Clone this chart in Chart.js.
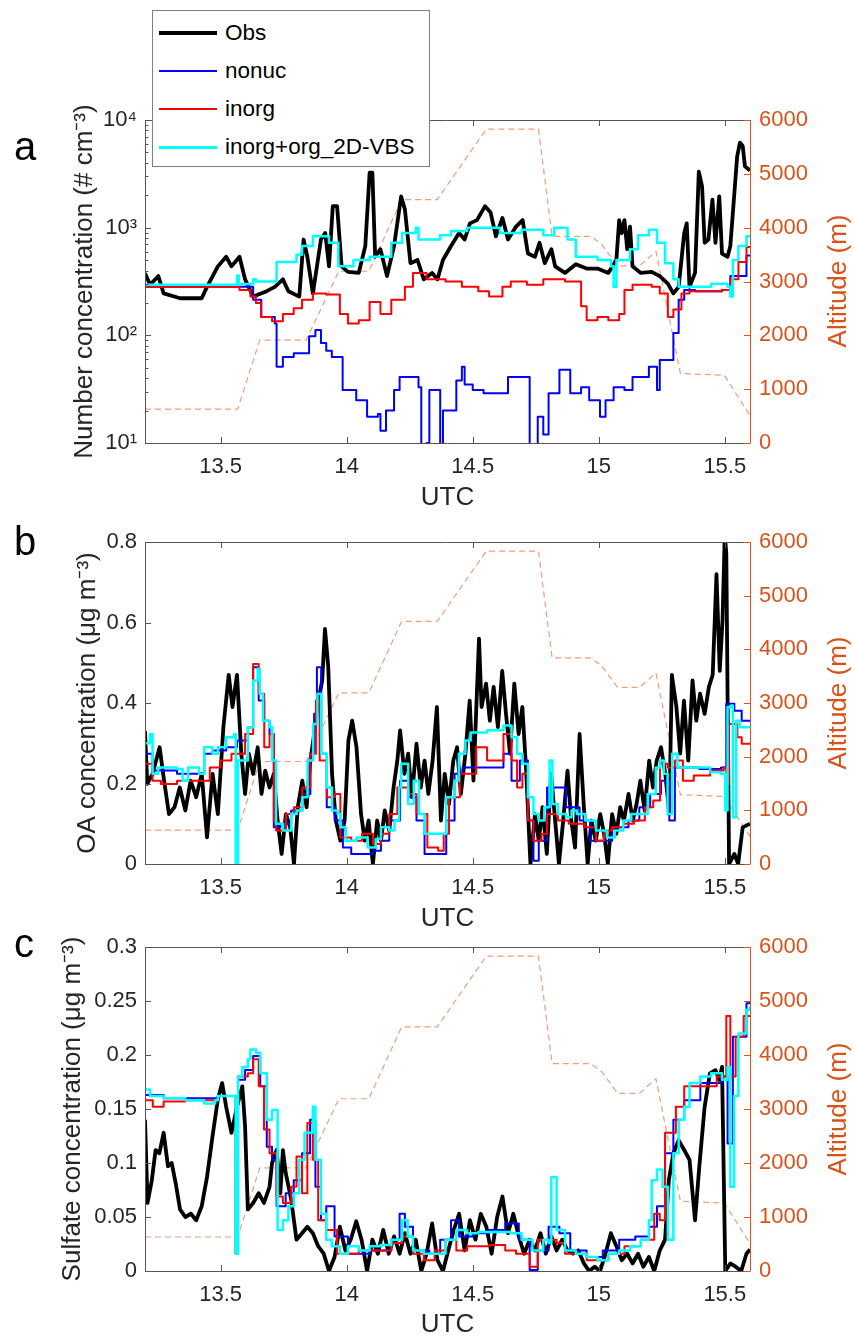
<!DOCTYPE html>
<html lang="en">
<head>
  <meta charset="UTF-8" />
  <title>Number, OA and sulfate concentration vs UTC</title>
  <script src="https://cdn.jsdelivr.net/npm/chart.js@4.4.0"></script>
  <style>
    * { box-sizing: border-box; margin: 0; padding: 0; }
    body {
      width: 854px;
      height: 1340px;
      position: relative;
      overflow: hidden;
      background: #fff;
      font-family: 'Liberation Sans', Arial, Helvetica, sans-serif;
      color: #000;
    }
    canvas { position: absolute; left: 0; }
    .letter {
      position: absolute;
      font-size: 40px;
      line-height: 1;
    }
    .alt-title {
      position: absolute;
      font-size: 26px;
      line-height: 1;
      color: #D95319;
      white-space: nowrap;
      transform: translate(-50%, -50%) rotate(-90deg);
    }
    #legend {
      position: absolute;
      left: 152px;
      top: 10px;
      width: 278px;
      height: 157px;
      border: 1px solid #7f7f7f;
      background: #fff;
      font-size: 22.5px;
      z-index: 5;
    }
    #legend .row { position: absolute; left: 0; width: 100%; height: 38px; }
    #legend .swatch { position: absolute; left: 6px; width: 58px; }
    #legend .label { position: absolute; left: 72px; top: 0; line-height: 38px; }
  </style>
</head>
<body>

  <canvas id="chartA" width="854" height="520" style="top:0px"></canvas>
  <canvas id="chartB" width="854" height="470" style="top:470px"></canvas>
  <canvas id="chartC" width="854" height="460" style="top:880px"></canvas>

  <div class="letter" style="left:14px; top:126px">a</div>
  <div class="letter" style="left:14px; top:521px">b</div>
  <div class="letter" style="left:14px; top:923px">c</div>

  <div class="alt-title" style="left:837px; top:281px">Altitude (m)</div>
  <div class="alt-title" style="left:837px; top:703px">Altitude (m)</div>
  <div class="alt-title" style="left:837px; top:1109px">Altitude (m)</div>

  <div id="legend">
    <div class="row" style="top:3px"><span class="swatch" style="top:17px; border-top:4px solid #000"></span><span class="label">Obs</span></div>
    <div class="row" style="top:41px"><span class="swatch" style="top:18px; border-top:2.5px solid #0000ff"></span><span class="label">nonuc</span></div>
    <div class="row" style="top:79px"><span class="swatch" style="top:18px; border-top:2.5px solid #ff0000"></span><span class="label">inorg</span></div>
    <div class="row" style="top:117px"><span class="swatch" style="top:18px; border-top:3px solid #00ffff"></span><span class="label">inorg+org_2D-VBS</span></div>
  </div>

  <script>
    // ---- axis ticks ----
    const utcTicks = [13.5, 14, 14.5, 15, 15.5];
    const altTicks = [0, 1000, 2000, 3000, 4000, 5000, 6000];
    const numTicks = [10, 100, 1000, 10000];
    const oaTicks = [0, 0.2, 0.4, 0.6, 0.8];
    const so4Ticks = [0, 0.05, 0.1, 0.15, 0.2, 0.25, 0.3];

    // ---- flight altitude (m), same flight in all panels ----
    const altitude = [[13.2, 630], [13.568, 630], [13.655, 1910], [13.839, 1910], [13.969, 3190], [14.088, 3190],
      [14.218, 4520], [14.359, 4520], [14.554, 5830], [14.761, 5830], [14.815, 3840], [14.967, 3840],
      [15.01, 3700], [15.075, 3290], [15.161, 3290], [15.227, 3560], [15.324, 1290], [15.498, 1260], [15.6, 510]];

    // ---- panel a: number concentration (# cm-3) ----
    const numObs = [[13.2, 378], [13.22, 295], [13.253, 355], [13.274, 245], [13.339, 221], [13.425, 221], [13.446, 282],
      [13.489, 437], [13.522, 537], [13.543, 437], [13.575, 537], [13.597, 331], [13.629, 229], [13.683, 257], [13.715, 282],
      [13.747, 331], [13.769, 257], [13.812, 229], [13.829, 776], [13.844, 537], [13.866, 245], [13.898, 776], [13.915, 891],
      [13.93, 437], [13.945, 1585], [13.962, 1585], [13.98, 437], [14.005, 389], [14.048, 380], [14.074, 676], [14.091, 3236],
      [14.102, 3236], [14.113, 537], [14.134, 631], [14.16, 355], [14.188, 676], [14.216, 1950], [14.231, 1479], [14.253, 468],
      [14.281, 501], [14.306, 331], [14.339, 380], [14.36, 331], [14.382, 501], [14.414, 676], [14.446, 891], [14.468, 776],
      [14.489, 1096], [14.517, 1175], [14.549, 1585], [14.571, 1380], [14.592, 832], [14.618, 1230], [14.64, 776],
      [14.672, 1023], [14.698, 1175], [14.719, 575], [14.747, 537], [14.765, 724], [14.786, 468], [14.812, 631], [14.827, 437],
      [14.866, 380], [14.909, 457], [14.952, 417], [14.995, 417], [15.038, 380], [15.07, 501], [15.081, 1175], [15.091, 891],
      [15.102, 1175], [15.113, 631], [15.124, 1023], [15.134, 437], [15.167, 380], [15.21, 389], [15.242, 355], [15.274, 302],
      [15.296, 245], [15.317, 282], [15.339, 891], [15.349, 1096], [15.36, 282], [15.382, 380], [15.397, 3311], [15.41, 2400],
      [15.42, 724], [15.435, 776], [15.451, 1820], [15.463, 724], [15.478, 1950], [15.489, 575], [15.511, 537], [15.522, 676],
      [15.537, 1950], [15.549, 4570], [15.56, 6170], [15.571, 5750], [15.58, 3715], [15.6, 3400]];
    const numNonuc = [[13.2, 282], [13.575, 282], [13.629, 214], [13.661, 148], [13.715, 129], [13.722, 51], [13.747, 63],
      [13.79, 68], [13.851, 98], [13.876, 112], [13.898, 85], [13.919, 72], [13.941, 63], [13.984, 31], [14.038, 25],
      [14.081, 17.5], [14.124, 18.6], [14.134, 13], [14.156, 20], [14.188, 31], [14.21, 41], [14.263, 41], [14.285, 33],
      [14.296, 8], [14.317, 10], [14.328, 31], [14.371, 8], [14.382, 20], [14.435, 38], [14.457, 51], [14.468, 35], [14.5, 31],
      [14.543, 29], [14.64, 41], [14.726, 8], [14.758, 17.5], [14.78, 12], [14.801, 29], [14.844, 48], [14.887, 29],
      [14.93, 33], [14.962, 25], [15.005, 17.5], [15.027, 25], [15.059, 33], [15.102, 31], [15.134, 41], [15.199, 51],
      [15.231, 31], [15.242, 59], [15.296, 105], [15.317, 214], [15.339, 263], [15.382, 257], [15.489, 263], [15.522, 355],
      [15.586, 550], [15.6, 550]];
    const numInorg = [[13.2, 282], [13.575, 263], [13.618, 229], [13.64, 200], [13.661, 148], [13.704, 135], [13.747, 158],
      [13.79, 178], [13.823, 214], [13.866, 245], [13.919, 240], [13.973, 158], [14.005, 129], [14.048, 138], [14.091, 204],
      [14.134, 158], [14.177, 214], [14.231, 282], [14.263, 380], [14.317, 331], [14.392, 316], [14.457, 282], [14.522, 257],
      [14.565, 229], [14.618, 282], [14.651, 316], [14.715, 295], [14.78, 331], [14.866, 316], [14.93, 186], [14.952, 138],
      [14.995, 148], [15.038, 138], [15.081, 158], [15.102, 263], [15.134, 295], [15.21, 282], [15.242, 245], [15.274, 148],
      [15.296, 174], [15.328, 245], [15.36, 257], [15.489, 263], [15.522, 331], [15.554, 480], [15.586, 660], [15.6, 660]];
    const numOrg = [[13.2, 295], [13.565, 360], [13.572, 300], [13.629, 331], [13.64, 316], [13.722, 480], [13.801, 560],
      [13.823, 676], [13.866, 832], [13.93, 724], [13.967, 437], [14.027, 501], [14.091, 537], [14.177, 724], [14.22, 891],
      [14.274, 1000], [14.285, 776], [14.371, 851], [14.414, 933], [14.478, 1000], [14.608, 891], [14.694, 955], [14.78, 851],
      [14.823, 1000], [14.876, 776], [14.909, 537], [14.995, 501], [15.048, 437], [15.059, 282], [15.07, 501], [15.124, 631],
      [15.156, 851], [15.199, 955], [15.231, 724], [15.263, 468], [15.296, 331], [15.317, 282], [15.446, 302], [15.511, 282],
      [15.522, 229], [15.532, 501], [15.554, 676], [15.586, 832], [15.6, 832]];

    // ---- panel b: OA concentration (ug m-3) ----
    const oaObs = [[13.2, 0.33], [13.209, 0.199], [13.23, 0.224], [13.258, 0.29], [13.274, 0.215], [13.295, 0.124],
      [13.317, 0.141], [13.338, 0.19], [13.36, 0.133], [13.381, 0.207], [13.403, 0.166], [13.425, 0.224], [13.446, 0.066],
      [13.468, 0.224], [13.489, 0.124], [13.511, 0.34], [13.532, 0.47], [13.547, 0.39], [13.565, 0.47], [13.582, 0.274],
      [13.597, 0.174], [13.612, 0.274], [13.629, 0.224], [13.647, 0.29], [13.662, 0.174], [13.677, 0.232], [13.694, 0.19],
      [13.711, 0.224], [13.726, 0.108], [13.742, 0.025], [13.759, 0.124], [13.776, 0.091], [13.791, 0], [13.806, 0.141],
      [13.824, 0.207], [13.841, 0.141], [13.856, 0.257], [13.871, 0.323], [13.888, 0.406], [13.903, 0.456], [13.914, 0.584],
      [13.927, 0.489], [13.942, 0.224], [13.957, 0.108], [13.975, 0.058], [13.992, 0.108], [14.007, 0.307], [14.022, 0.356],
      [14.039, 0.29], [14.057, 0.124], [14.072, 0.058], [14.087, 0.108], [14.104, 0], [14.121, 0.108], [14.136, 0.058],
      [14.151, 0.133], [14.169, 0.083], [14.186, 0.19], [14.201, 0.257], [14.212, 0.332], [14.229, 0.224], [14.244, 0.274],
      [14.259, 0.166], [14.277, 0.299], [14.294, 0.19], [14.309, 0.257], [14.324, 0.174], [14.341, 0.257], [14.358, 0.39],
      [14.374, 0.108], [14.389, 0.224], [14.406, 0.149], [14.423, 0.257], [14.438, 0.29], [14.453, 0.174], [14.471, 0.274],
      [14.488, 0.406], [14.503, 0.207], [14.518, 0.448], [14.525, 0.56], [14.535, 0.39], [14.553, 0.448], [14.568, 0.356],
      [14.583, 0.44], [14.6, 0.34], [14.617, 0.48], [14.632, 0.373], [14.648, 0.274], [14.665, 0.448], [14.682, 0.323],
      [14.697, 0.39], [14.712, 0.232], [14.729, 0], [14.747, 0.124], [14.762, 0.058], [14.777, 0.141], [14.794, 0.025],
      [14.811, 0.224], [14.827, 0.108], [14.842, 0], [14.859, 0.108], [14.876, 0.232], [14.891, 0.108], [14.906, 0.041],
      [14.924, 0.323], [14.941, 0.141], [14.956, 0], [14.971, 0.108], [14.988, 0.058], [15.006, 0.124], [15.021, 0.075],
      [15.036, 0], [15.053, 0.124], [15.07, 0.075], [15.085, 0.141], [15.1, 0.108], [15.118, 0.174], [15.135, 0.108],
      [15.15, 0.149], [15.165, 0.207], [15.182, 0.133], [15.2, 0.257], [15.215, 0.19], [15.23, 0.257], [15.247, 0.29],
      [15.264, 0.224], [15.28, 0.124], [15.29, 0.47], [15.308, 0.39], [15.323, 0.274], [15.338, 0.406], [15.355, 0.257],
      [15.372, 0.456], [15.387, 0.356], [15.402, 0.423], [15.42, 0.373], [15.437, 0.44], [15.452, 0.47], [15.467, 0.72],
      [15.48, 0.48], [15.491, 0.605], [15.5, 0.82], [15.506, 0.77], [15.517, 0], [15.538, 0.025], [15.553, 0],
      [15.571, 0.091], [15.6, 0.1]];
    const oaNonuc = [[13.2, 0.274], [13.23, 0.232], [13.327, 0.224], [13.435, 0.274], [13.468, 0.282], [13.522, 0.29],
      [13.565, 0.307], [13.608, 0.34], [13.629, 0.489], [13.651, 0.406], [13.673, 0.356], [13.694, 0.323], [13.711, 0.091],
      [13.737, 0.1], [13.78, 0.133], [13.824, 0.174], [13.856, 0.274], [13.871, 0.373], [13.882, 0.489], [13.899, 0.274],
      [13.921, 0.141], [13.953, 0.108], [13.985, 0.041], [14.018, 0.025], [14.104, 0.033], [14.136, 0.058], [14.169, 0.108],
      [14.212, 0.207], [14.244, 0.166], [14.277, 0.108], [14.309, 0.025], [14.395, 0.108], [14.428, 0.224], [14.46, 0.24],
      [14.622, 0.274], [14.654, 0.207], [14.687, 0.257], [14.719, 0.108], [14.741, 0.008], [14.762, 0.058], [14.795, 0.19],
      [14.87, 0.141], [14.924, 0.108], [14.967, 0.058], [15.053, 0.091], [15.118, 0.108], [15.161, 0.141], [15.204, 0.174],
      [15.247, 0.207], [15.28, 0.108], [15.302, 0.24], [15.399, 0.236], [15.485, 0.24], [15.506, 0.398], [15.538, 0.381],
      [15.567, 0.356], [15.6, 0.356]];
    const oaInorg = [[13.2, 0.249], [13.23, 0.207], [13.263, 0.199], [13.327, 0.207], [13.457, 0.24], [13.5, 0.257],
      [13.543, 0.274], [13.597, 0.323], [13.629, 0.497], [13.651, 0.423], [13.673, 0.29], [13.694, 0.323], [13.711, 0.108],
      [13.72, 0.083], [13.759, 0.124], [13.791, 0.141], [13.824, 0.19], [13.856, 0.274], [13.878, 0.406], [13.893, 0.257],
      [13.921, 0.166], [13.953, 0.174], [13.975, 0.066], [14.018, 0.058], [14.061, 0.075], [14.104, 0.05], [14.136, 0.075],
      [14.169, 0.124], [14.201, 0.19], [14.244, 0.174], [14.277, 0.124], [14.32, 0.041], [14.363, 0.033], [14.385, 0.075],
      [14.406, 0.166], [14.449, 0.224], [14.514, 0.29], [14.557, 0.257], [14.622, 0.323], [14.654, 0.257], [14.676, 0.19],
      [14.697, 0.224], [14.719, 0.108], [14.741, 0.058], [14.773, 0.075], [14.795, 0.124], [14.838, 0.108], [14.881, 0.1],
      [14.946, 0.091], [14.989, 0.058], [15.021, 0.083], [15.053, 0.091], [15.097, 0.1], [15.14, 0.108], [15.183, 0.141],
      [15.216, 0.158], [15.243, 0.249], [15.273, 0.24], [15.302, 0.257], [15.334, 0.207], [15.377, 0.22], [15.442, 0.232],
      [15.496, 0.24], [15.506, 0.199], [15.517, 0.348], [15.55, 0.315], [15.567, 0.299], [15.6, 0.299]];
    const oaOrg = [[13.2, 0.3], [13.22, 0.323], [13.23, 0.224], [13.252, 0.24], [13.327, 0.236], [13.349, 0.207],
      [13.371, 0.24], [13.414, 0.224], [13.435, 0.29], [13.468, 0.274], [13.489, 0.29], [13.522, 0.315], [13.554, 0.323],
      [13.56, 0], [13.569, 0.257], [13.608, 0.34], [13.629, 0.456], [13.647, 0.485], [13.655, 0.423], [13.668, 0.356],
      [13.694, 0.34], [13.705, 0.257], [13.72, 0.1], [13.748, 0.083], [13.78, 0.124], [13.802, 0.133], [13.824, 0.166],
      [13.845, 0.257], [13.867, 0.348], [13.884, 0.423], [13.899, 0.274], [13.921, 0.19], [13.942, 0.133], [13.964, 0.124],
      [13.975, 0.091], [13.996, 0.058], [14.039, 0.066], [14.083, 0.041], [14.115, 0.062], [14.136, 0.091], [14.169, 0.083],
      [14.19, 0.108], [14.208, 0.19], [14.216, 0.249], [14.244, 0.149], [14.266, 0.207], [14.287, 0.124], [14.309, 0.075],
      [14.395, 0.166], [14.428, 0.207], [14.445, 0.274], [14.471, 0.307], [14.492, 0.327], [14.557, 0.332], [14.622, 0.344],
      [14.654, 0.315], [14.676, 0.274], [14.697, 0.249], [14.719, 0.166], [14.741, 0.124], [14.762, 0.108], [14.784, 0.141],
      [14.805, 0.257], [14.816, 0.149], [14.838, 0.124], [14.87, 0.116], [14.892, 0.133], [14.913, 0.124], [14.946, 0.108],
      [14.989, 0.083], [15.032, 0.066], [15.064, 0.083], [15.097, 0.108], [15.129, 0.124], [15.194, 0.174], [15.226, 0.24],
      [15.243, 0.257], [15.258, 0.224], [15.273, 0.124], [15.291, 0.274], [15.312, 0.24], [15.442, 0.228], [15.485, 0.224],
      [15.502, 0.133], [15.511, 0.39], [15.528, 0.394], [15.532, 0.116], [15.545, 0.356], [15.56, 0.34], [15.6, 0.34]];

    // ---- panel c: sulfate concentration (ug m-3) ----
    const so4Obs = [[13.2, 0.14], [13.21, 0.063], [13.227, 0.084], [13.242, 0.112], [13.257, 0.109], [13.274, 0.128],
      [13.291, 0.097], [13.306, 0.1], [13.322, 0.081], [13.339, 0.057], [13.36, 0.05], [13.382, 0.053], [13.403, 0.047],
      [13.425, 0.06], [13.446, 0.087], [13.468, 0.125], [13.489, 0.159], [13.506, 0.174], [13.522, 0.152], [13.543, 0.128],
      [13.565, 0.152], [13.586, 0.171], [13.597, 0.134], [13.608, 0.057], [13.629, 0.063], [13.651, 0.072], [13.672, 0.063],
      [13.694, 0.078], [13.704, 0.1], [13.722, 0.112], [13.737, 0.072], [13.747, 0.112], [13.758, 0.091], [13.78, 0.066],
      [13.801, 0.029], [13.823, 0.035], [13.844, 0.041], [13.866, 0.035], [13.887, 0.023], [13.909, 0.016], [13.93, 0],
      [13.952, 0.013], [13.973, 0.041], [13.995, 0.019], [14.016, 0.029], [14.038, 0.046], [14.059, 0.029], [14.081, 0],
      [14.102, 0.029], [14.124, 0.016], [14.145, 0.038], [14.167, 0.016], [14.188, 0.032], [14.21, 0.016], [14.231, 0.035],
      [14.253, 0.016], [14.274, 0.029], [14.296, 0], [14.317, 0.016], [14.339, 0.044], [14.36, 0.01], [14.382, 0],
      [14.403, 0.019], [14.425, 0.038], [14.446, 0.053], [14.468, 0.019], [14.489, 0.047], [14.511, 0.029], [14.532, 0.053],
      [14.554, 0.041], [14.575, 0.016], [14.597, 0.05], [14.618, 0.069], [14.64, 0.035], [14.661, 0.053], [14.683, 0.032],
      [14.704, 0.016], [14.726, 0.029], [14.747, 0.019], [14.769, 0.035], [14.79, 0.016], [14.812, 0.032], [14.833, 0.019],
      [14.855, 0.029], [14.876, 0.019], [14.898, 0.016], [14.919, 0.019], [14.941, 0.007], [14.962, 0], [14.984, 0.004],
      [15.005, 0], [15.027, 0.016], [15.048, 0.035], [15.07, 0.023], [15.091, 0.01], [15.113, 0.016], [15.134, 0.007],
      [15.156, 0.016], [15.177, 0.004], [15.199, 0.013], [15.22, 0], [15.242, 0.019], [15.263, 0.029], [15.278, 0.084],
      [15.296, 0.109], [15.317, 0.121], [15.339, 0.112], [15.36, 0.103], [15.382, 0.047], [15.399, 0.097], [15.42, 0.152],
      [15.441, 0.183], [15.463, 0.186], [15.478, 0.177], [15.489, 0.189], [15.502, 0], [15.522, 0.007], [15.543, 0.004],
      [15.565, 0], [15.586, 0.016], [15.6, 0.02]];
    const so4Nonuc = [[13.2, 0.163], [13.274, 0.16], [13.489, 0.162], [13.56, 0.016], [13.569, 0.177], [13.597, 0.186],
      [13.629, 0.199], [13.657, 0.171], [13.683, 0.115], [13.704, 0.103], [13.722, 0.06], [13.758, 0.072], [13.79, 0.084],
      [13.823, 0.109], [13.855, 0.14], [13.876, 0.078], [13.898, 0.047], [13.919, 0.06], [13.952, 0.032], [14.005, 0.016],
      [14.091, 0.019], [14.177, 0.029], [14.21, 0.053], [14.231, 0.041], [14.263, 0.019], [14.328, 0.016], [14.371, 0.029],
      [14.414, 0.047], [14.446, 0.032], [14.5, 0.035], [14.565, 0.038], [14.629, 0.044], [14.683, 0.029], [14.726, 0.001],
      [14.758, 0.019], [14.801, 0.041], [14.844, 0.035], [14.887, 0.019], [14.952, 0.013], [15.016, 0.019], [15.081, 0.029],
      [15.145, 0.032], [15.199, 0.041], [15.231, 0.06], [15.263, 0.109], [15.296, 0.14], [15.339, 0.158], [15.403, 0.174],
      [15.489, 0.18], [15.511, 0.118], [15.532, 0.217], [15.586, 0.248], [15.6, 0.25]];
    const so4Inorg = [[13.2, 0.158], [13.231, 0.152], [13.274, 0.157], [13.36, 0.158], [13.489, 0.162], [13.56, 0.016],
      [13.569, 0.18], [13.608, 0.183], [13.629, 0.196], [13.651, 0.171], [13.672, 0.131], [13.694, 0.109], [13.722, 0.069],
      [13.747, 0.063], [13.78, 0.078], [13.801, 0.106], [13.823, 0.072], [13.844, 0.137], [13.866, 0.103], [13.887, 0.047],
      [13.919, 0.038], [13.962, 0.016], [14.048, 0.019], [14.177, 0.026], [14.22, 0.032], [14.263, 0.016], [14.306, 0.01],
      [14.349, 0.019], [14.392, 0.029], [14.435, 0.019], [14.478, 0.023], [14.565, 0.024], [14.629, 0.019], [14.672, 0.016],
      [14.726, 0.004], [14.758, 0.029], [14.833, 0.026], [14.866, 0.016], [14.952, 0.01], [15.038, 0.016], [15.102, 0.023],
      [15.167, 0.029], [15.22, 0.053], [15.242, 0.047], [15.263, 0.128], [15.306, 0.152], [15.339, 0.171], [15.468, 0.18],
      [15.506, 0.236], [15.522, 0.18], [15.543, 0.217], [15.575, 0.236], [15.6, 0.236]];
    const so4Org = [[13.2, 0.168], [13.22, 0.162], [13.274, 0.16], [13.36, 0.158], [13.435, 0.155], [13.478, 0.158],
      [13.489, 0.162], [13.56, 0.016], [13.569, 0.18], [13.586, 0.189], [13.608, 0.196], [13.618, 0.205], [13.64, 0.202],
      [13.657, 0.183], [13.683, 0.14], [13.704, 0.149], [13.726, 0.038], [13.747, 0.047], [13.769, 0.06], [13.79, 0.072],
      [13.812, 0.103], [13.833, 0.128], [13.866, 0.152], [13.876, 0.103], [13.898, 0.053], [13.919, 0.029], [13.941, 0.023],
      [13.973, 0.016], [14.005, 0.023], [14.048, 0.019], [14.091, 0.023], [14.134, 0.024], [14.177, 0.029], [14.22, 0.047],
      [14.242, 0.032], [14.263, 0.019], [14.306, 0.016], [14.392, 0.029], [14.435, 0.038], [14.478, 0.035], [14.522, 0.036],
      [14.651, 0.035], [14.694, 0.029], [14.737, 0.019], [14.78, 0.029], [14.801, 0.026], [14.812, 0.087], [14.833, 0.038],
      [14.866, 0.019], [14.909, 0.016], [14.952, 0.013], [14.995, 0.01], [15.038, 0.016], [15.081, 0.019], [15.124, 0.023],
      [15.167, 0.029], [15.199, 0.047], [15.21, 0.084], [15.231, 0.094], [15.253, 0.078], [15.274, 0.029], [15.296, 0.109],
      [15.317, 0.14], [15.339, 0.152], [15.36, 0.174], [15.403, 0.18], [15.446, 0.183], [15.489, 0.177], [15.511, 0.189],
      [15.522, 0.078], [15.537, 0.162], [15.554, 0.22], [15.586, 0.242], [15.6, 0.245]];

    // ---- style ----
    const FONT = "'Liberation Sans', Arial, Helvetica, sans-serif";
    const INK = '#262626';
    const AXIS = '#555555';
    const ORANGE = '#D95319';
    const ALT_LINE = 'rgba(238,140,100,0.85)';
    const tickFont = { family: FONT, size: 22 };
    const titleFont = { family: FONT, size: 26 };
    const SUP = { 1: '\u00b9', 2: '\u00b2', 3: '\u00b3', 4: '\u2074' };

    const pts = arr => arr.map(([x, y]) => ({ x, y }));
    const fixTicks = list => scale => { scale.ticks = list.map(v => ({ value: v })); };

    // MATLAB-like box with inward ticks
    const boxPlugin = {
      id: 'matlabBox',
      afterDraw(chart) {
        const { ctx, chartArea: a, scales } = chart;
        const x = scales.x, y = scales.y, y2 = scales.y2;
        const L = 6, l = 3.5;
        ctx.save();
        ctx.lineWidth = 1;
        ctx.strokeStyle = AXIS;
        ctx.beginPath();
        x.ticks.forEach(t => {
          const px = Math.round(x.getPixelForValue(t.value)) + 0.5;
          ctx.moveTo(px, a.bottom); ctx.lineTo(px, a.bottom - L);
          ctx.moveTo(px, a.top); ctx.lineTo(px, a.top + L);
        });
        y.ticks.forEach(t => {
          const py = Math.round(y.getPixelForValue(t.value)) + 0.5;
          ctx.moveTo(a.left, py); ctx.lineTo(a.left + L, py);
        });
        if (y.type === 'logarithmic') {
          for (let i = 0; i < numTicks.length - 1; i++) {
            for (let m = 2; m <= 9; m++) {
              const py = Math.round(y.getPixelForValue(numTicks[i] * m)) + 0.5;
              ctx.moveTo(a.left, py); ctx.lineTo(a.left + l, py);
            }
          }
        }
        const left = Math.round(a.left) + 0.5, bottom = Math.round(a.bottom) + 0.5, top = Math.round(a.top) + 0.5;
        ctx.moveTo(left, top); ctx.lineTo(left, bottom); ctx.lineTo(a.right, bottom);
        ctx.moveTo(left, top); ctx.lineTo(a.right, top);
        ctx.stroke();

        ctx.strokeStyle = ORANGE;
        ctx.beginPath();
        const right = Math.round(a.right) + 0.5;
        ctx.moveTo(right, a.top); ctx.lineTo(right, a.bottom + 0.5);
        y2.ticks.forEach(t => {
          const py = Math.round(y2.getPixelForValue(t.value)) + 0.5;
          ctx.moveTo(a.right, py); ctx.lineTo(a.right - L, py);
        });
        ctx.stroke();
        ctx.restore();
      }
    };

    function datasets(obs, nonuc, inorg, org) {
      const base = { pointRadius: 0, fill: false, tension: 0, borderJoinStyle: 'round' };
      return [
        { ...base, label: 'Altitude', data: pts(altitude), yAxisID: 'y2', borderColor: ALT_LINE, borderWidth: 1.2, borderDash: [6, 4], order: 5 },
        { ...base, label: 'Obs', data: pts(obs), yAxisID: 'y', borderColor: '#000', borderWidth: 3.8, order: 4 },
        { ...base, label: 'nonuc', data: pts(nonuc), yAxisID: 'y', borderColor: '#0000ff', borderWidth: 2, stepped: true, order: 3 },
        { ...base, label: 'inorg', data: pts(inorg), yAxisID: 'y', borderColor: '#ff0000', borderWidth: 2, stepped: true, order: 2 },
        { ...base, label: 'inorg+org_2D-VBS', data: pts(org), yAxisID: 'y', borderColor: '#00ffff', borderWidth: 2.5, stepped: true, order: 1 }
      ];
    }

    function buildPanel(id, p) {
      return new Chart(document.getElementById(id), {
        type: 'line',
        data: { datasets: datasets(p.obs, p.nonuc, p.inorg, p.org) },
        options: {
          responsive: false,
          animation: false,
          devicePixelRatio: 1,
          layout: { padding: { top: p.padTop, bottom: p.padBottom, left: 0, right: 0 } },
          plugins: { legend: { display: false }, tooltip: { enabled: false } },
          scales: {
            x: {
              type: 'linear', min: 13.2, max: 15.6,
              afterBuildTicks: fixTicks(utcTicks),
              afterFit: s => { s.height = p.xHeight; },
              grid: { display: false, drawTicks: false },
              border: { display: false },
              ticks: { font: tickFont, color: INK, padding: 11, maxRotation: 0, callback: v => String(v) },
              title: { display: true, text: 'UTC', font: titleFont, color: INK, padding: { top: 0, bottom: 0 } }
            },
            y: {
              type: p.yType, position: 'left', min: p.yMin, max: p.yMax,
              afterBuildTicks: fixTicks(p.yTicks),
              afterFit: s => { s.width = 145; },
              grid: { display: false, drawTicks: false },
              border: { display: false },
              ticks: { font: tickFont, color: INK, padding: 8, callback: p.yLabel },
              title: { display: true, text: p.yTitle, font: titleFont, color: INK, padding: { top: p.titlePad, bottom: 0 } }
            },
            y2: {
              type: 'linear', position: 'right', min: 0, max: 6000,
              afterBuildTicks: fixTicks(altTicks),
              afterFit: s => { s.width = 104; },
              grid: { display: false, drawTicks: false },
              border: { display: false },
              ticks: { font: tickFont, color: ORANGE, padding: 9, callback: v => String(v) }
            }
          }
        },
        plugins: [boxPlugin]
      });
    }

    buildPanel('chartA', {
      obs: numObs, nonuc: numNonuc, inorg: numInorg, org: numOrg,
      yType: 'logarithmic', yMin: 10, yMax: 10000, yTicks: numTicks,
      yLabel: v => '10' + SUP[Math.round(Math.log10(v))],
      yTitle: 'Number concentration (# cm\u207b\u00b3)', titlePad: 69,
      padTop: 120, padBottom: 7, xHeight: 70
    });
    buildPanel('chartB', {
      obs: oaObs, nonuc: oaNonuc, inorg: oaInorg, org: oaOrg,
      yType: 'linear', yMin: 0, yMax: 0.8, yTicks: oaTicks,
      yLabel: v => String(v),
      yTitle: 'OA concentration (\u03bcg m\u207b\u00b3)', titlePad: 72,
      padTop: 72, padBottom: 6, xHeight: 70
    });
    buildPanel('chartC', {
      obs: so4Obs, nonuc: so4Nonuc, inorg: so4Inorg, org: so4Org,
      yType: 'linear', yMin: 0, yMax: 0.3, yTicks: so4Ticks,
      yLabel: v => String(v),
      yTitle: 'Sulfate concentration (\u03bcg m\u207b\u00b3)', titlePad: 57,
      padTop: 67, padBottom: 0, xHeight: 69
    });
  </script>
</body>
</html>
